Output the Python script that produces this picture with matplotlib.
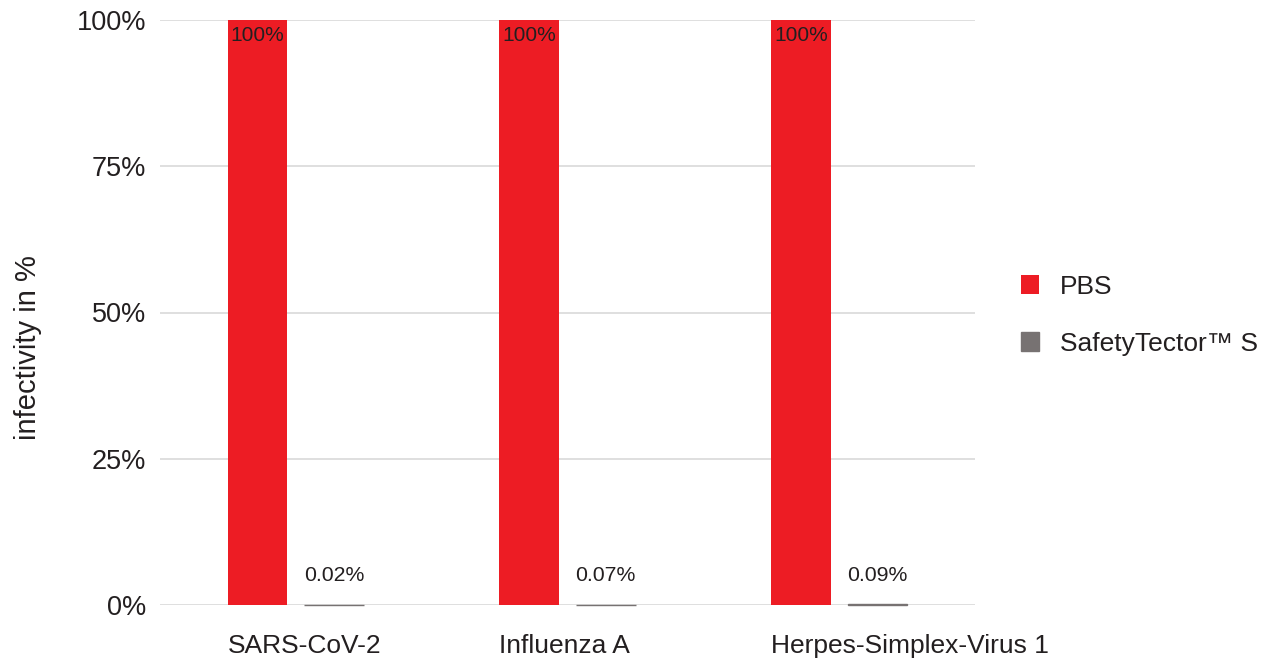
import numpy as np
import matplotlib.pyplot as plt

plt.rcParams['font.family'] = ['Liberation Sans', 'DejaVu Sans']

# data
categories = ['SARS-CoV-2', 'Influenza A', 'Herpes-Simplex-Virus 1']
pbs = [100, 100, 100]
safety = [0.02, 0.07, 0.09]
pbs_labels = ['100%', '100%', '100%']
safety_labels = ['0.02%', '0.07%', '0.09%']

red = '#ED1C24'
gray = '#777272'
text_col = '#231F20'

fig = plt.figure(figsize=(12.71, 6.6), dpi=100)
ax = fig.add_axes([160 / 1271, 55 / 660, 815 / 1271, 585 / 660])

x = np.arange(len(categories))
w = 0.22
off = 0.141
b1 = ax.bar(x - off, pbs, w, color=red, label='PBS', zorder=2)
b2 = ax.bar(x + off, safety, w, color=gray, edgecolor=gray, linewidth=1.0,
            label='SafetyTector™ S', zorder=2, clip_on=False)

for rect, lab in zip(b1, pbs_labels):
    ax.text(rect.get_x() + rect.get_width() / 2, rect.get_height() - 1.0, lab,
            ha='center', va='top', fontsize=15, color=text_col, zorder=3)
for rect, lab in zip(b2, safety_labels):
    ax.text(rect.get_x() + rect.get_width() / 2, rect.get_height() + 4.0, lab,
            ha='center', va='baseline', fontsize=15.3, color=text_col, zorder=3)

ax.set_xlim(-0.5, 2.5)
ax.set_ylim(0, 100)
ax.set_yticks([0, 25, 50, 75, 100])
ax.set_yticklabels(['0%', '25%', '50%', '75%', '100%'])
# category labels start at the left edge of the red bar
ax.set_xticks(x - off - w / 2)
ax.set_xticklabels(categories, ha='left')
ax.tick_params(axis='both', length=0, labelcolor=text_col)
ax.tick_params(axis='y', pad=10, labelsize=19.5)
ax.tick_params(axis='x', pad=21, labelsize=19)
ax.grid(axis='y', color='#D9D9D9', linewidth=1.2, zorder=0)
ax.grid(axis='x', visible=False)
for s in ax.spines.values():
    s.set_visible(False)
ax.set_ylabel('infectivity in %', fontsize=21, color=text_col)
ax.yaxis.set_label_coords(-0.145, 0.44)

ax.legend(loc='center left', bbox_to_anchor=(1.027, 0.495), frameon=False,
          fontsize=19, handlelength=0.7, handleheight=0.7, labelspacing=1.25,
          handletextpad=0.8, labelcolor=text_col)

fig.savefig('out.png', dpi=100)
